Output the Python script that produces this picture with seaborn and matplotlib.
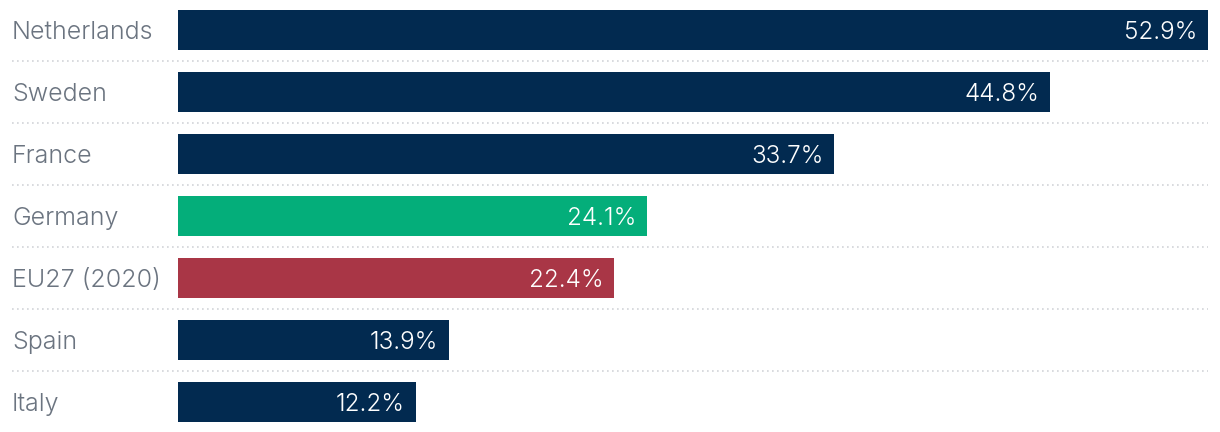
import matplotlib
matplotlib.use("Agg")
import matplotlib.pyplot as plt
import matplotlib.transforms as mtransforms
import seaborn as sns
import pandas as pd

countries = ["Netherlands", "Sweden", "France", "Germany", "EU27 (2020)", "Spain", "Italy"]
values = [52.9, 44.8, 33.7, 24.1, 22.4, 13.9, 12.2]
value_labels = ["52.9%", "44.8%", "33.7%", "24.1%", "22.4%", "13.9%", "12.2%"]
bar_colors = ["#022a50", "#022a50", "#022a50", "#04ae7a", "#a93646", "#022a50", "#022a50"]

sns.set_theme(style="white")
plt.rcParams["font.family"] = ["Inter", "DejaVu Sans"]

df = pd.DataFrame({"country": countries, "value": values})

fig = plt.figure(figsize=(12.2, 4.32), dpi=100)
ax = fig.add_axes([178 / 1220, 0, (1208 - 178) / 1220, 1])
sns.barplot(data=df, y="country", x="value", hue="country", palette=bar_colors,
            legend=False, width=0.645, ax=ax, saturation=1, orient="h",
            edgecolor="none", linewidth=0)
ax.set_xlim(0, 52.9)
ax.set_ylim(6.484, -0.484)
ax.set_xlabel("")
ax.set_ylabel("")
ax.set_xticks([])
ax.set_yticks([])
for s in ax.spines.values():
    s.set_visible(False)

trans = mtransforms.blended_transform_factory(fig.transFigure, ax.transData)
for i, (c, v, lab) in enumerate(zip(countries, values, value_labels)):
    ax.annotate(c, xy=(12 / 1220, i), xycoords=trans, xytext=(0, -1.5),
                textcoords="offset points", ha="left", va="center",
                fontsize=18, color="#6b7480", fontweight=300)
    ax.annotate(lab, xy=(v, i), xytext=(-7.5, -1.5), textcoords="offset points",
                ha="right", va="center", fontsize=17.5, color="white", fontweight=300)
    if i < len(countries) - 1:
        ax.plot([12 / 1220, 1208 / 1220], [i + 0.5, i + 0.5], transform=trans,
                color="#d2d4d8", linewidth=1.2, linestyle=(0, (1, 2)), clip_on=False)

fig.savefig("out.png", dpi=100)
